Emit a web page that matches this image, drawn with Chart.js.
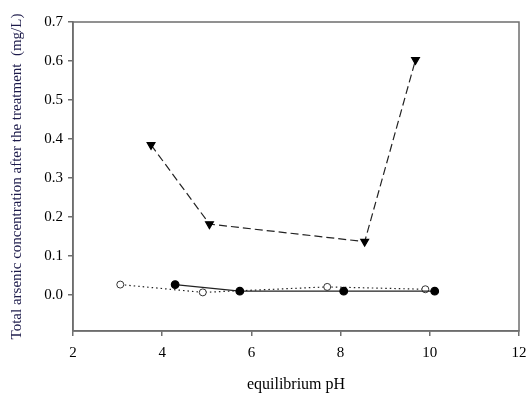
<!DOCTYPE html>
<html>
<head>
<meta charset="utf-8">
<script src="https://cdn.jsdelivr.net/npm/chart.js@4/dist/chart.umd.min.js"></script>
<style>
  html, body { margin: 0; padding: 0; background: #fff; }
  #wrap { width: 527px; height: 394px; }
</style>
</head>
<body>
<div id="wrap"><canvas id="c" width="527" height="394"></canvas></div>
<script>
// data
const triPH = [3.75, 5.06, 8.54, 9.68];
const triAs = [0.385, 0.182, 0.137, 0.603];
const filledPH = [4.29, 5.74, 8.07, 10.11];
const filledAs = [0.027, 0.010, 0.010, 0.010];
const openPH = [3.06, 4.91, 7.70, 9.90];
const openAs = [0.027, 0.007, 0.021, 0.015];
const yTicks = [0, 0.1, 0.2, 0.3, 0.4, 0.5, 0.6, 0.7];
const xTicks = [2, 4, 6, 8, 10, 12];

const pts = (xs, ys) => xs.map((x, i) => ({ x, y: ys[i] }));
const serif = 'Liberation Serif, Times New Roman, serif';
const axisGrey = '#6e6e6e';

// box round the plot area (top and right sides)
const frame = {
  id: 'frame',
  afterDraw(chart) {
    const { ctx, chartArea: a } = chart;
    ctx.save();
    ctx.strokeStyle = axisGrey;
    ctx.lineWidth = 1.5;
    ctx.strokeRect(a.left, a.top, a.right - a.left, a.bottom - a.top);
    ctx.restore();
  }
};

new Chart(document.getElementById('c'), {
  type: 'scatter',
  data: {
    datasets: [
      {
        data: pts(triPH, triAs),
        showLine: true,
        borderColor: '#222',
        borderWidth: 1.2,
        borderDash: [8, 4],
        pointStyle: 'triangle',
        rotation: 180,
        pointRadius: 4.5,
        backgroundColor: '#000',
        pointBorderColor: '#000'
      },
      {
        data: pts(filledPH, filledAs),
        showLine: true,
        borderColor: '#222',
        borderWidth: 1.2,
        pointStyle: 'circle',
        pointRadius: 3.8,
        backgroundColor: '#000',
        pointBorderColor: '#000'
      },
      {
        data: pts(openPH, openAs),
        showLine: true,
        borderColor: '#222',
        borderWidth: 1.2,
        borderDash: [1.5, 3],
        pointStyle: 'circle',
        pointRadius: 3.5,
        backgroundColor: '#fff',
        pointBackgroundColor: '#fff',
        pointBorderColor: '#333',
        pointBorderWidth: 1
      }
    ]
  },
  options: {
    responsive: false,
    animation: false,
    layout: { padding: { left: 0, top: 22, right: 8, bottom: 0 } },
    plugins: { legend: { display: false }, tooltip: { enabled: false } },
    scales: {
      x: {
        type: 'linear',
        min: 2,
        max: 12,
        afterBuildTicks: s => { s.ticks = xTicks.map(v => ({ value: v })); },
        afterFit: s => { s.height = 63; s.paddingLeft = 0; s.paddingRight = 0; },
        grid: { drawOnChartArea: false, drawTicks: true, tickLength: 5, color: axisGrey, lineWidth: 1.5 },
        border: { color: axisGrey, width: 1.5 },
        ticks: { color: '#000', font: { family: serif, size: 15 }, padding: 8, maxRotation: 0 },
        title: { display: true, text: 'equilibrium pH', color: '#000', font: { family: serif, size: 16 }, padding: { top: 10, bottom: 0 } }
      },
      y: {
        type: 'linear',
        min: -0.092,
        max: 0.7,
        afterBuildTicks: s => { s.ticks = yTicks.map(v => ({ value: v })); },
        afterFit: s => { s.width = 73; },
        grid: { drawOnChartArea: false, drawTicks: true, tickLength: 5, color: axisGrey, lineWidth: 1.5 },
        border: { color: axisGrey, width: 1.5 },
        ticks: { color: '#000', font: { family: serif, size: 15 }, padding: 5, callback: v => v.toFixed(1) },
        title: { display: true, text: 'Total arsenic concentration after the treatment  (mg/L)', color: '#1c1a4a', font: { family: serif, size: 15 }, padding: { top: 8, bottom: 2 } }
      }
    }
  },
  plugins: [frame]
});
</script>
</body>
</html>
